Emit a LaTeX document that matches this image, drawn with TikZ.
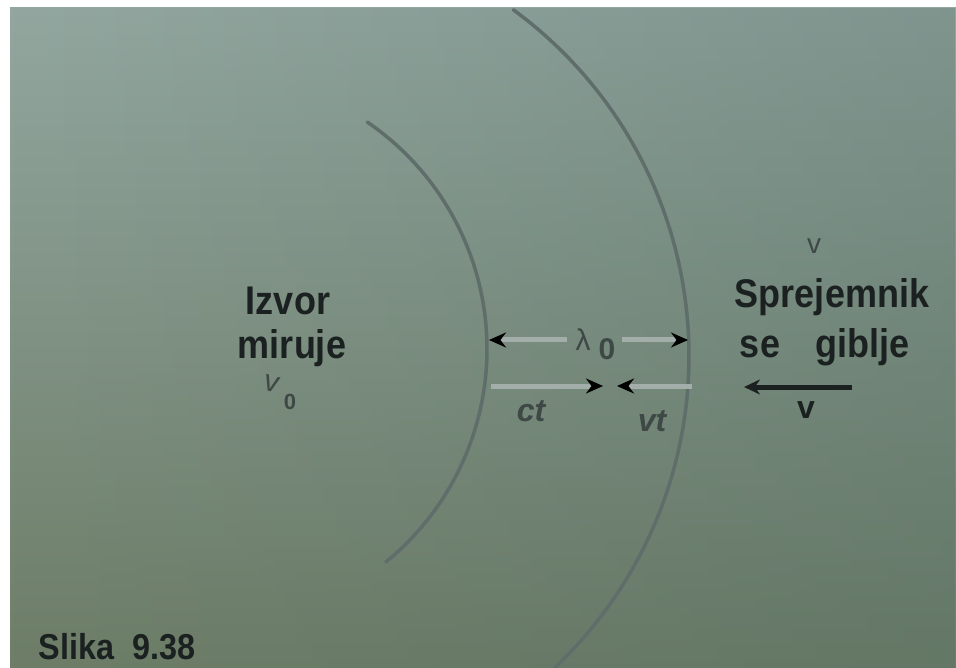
\documentclass[tikz,border=0pt]{standalone}
\usepackage{fontspec}
\setmainfont{Liberation Sans}
\usetikzlibrary{arrows.meta,fadings}
\definecolor{bgtop}{HTML}{93A7A0}
\definecolor{bgmid}{HTML}{869A91}
\definecolor{bgbot}{HTML}{6D7D67}
\definecolor{bgright}{HTML}{4F6A64}
\definecolor{ink}{HTML}{1B2120}
\definecolor{arcc}{HTML}{5F6E6A}
\definecolor{shaft}{HTML}{A3AEAA}
\definecolor{greytxt}{HTML}{3E4846}
\begin{document}
\begin{tikzpicture}[x=1pt,y=-1pt,
  bigtxt/.style={font=\fontsize{40}{44}\selectfont\bfseries, text=ink, xscale=0.9, inner sep=0, anchor=base},
  captxt/.style={font=\fontsize{36}{40}\selectfont\bfseries, text=ink, xscale=0.9, inner sep=0, anchor=base},
  symtxt/.style={font=\fontsize{32}{34}\selectfont\bfseries\itshape, text=greytxt, inner sep=0},
  lamtxt/.style={font=\fontsize{30}{32}\selectfont, text=greytxt, inner sep=0},
  wave/.style={draw=arcc, line width=3.5pt, line cap=round},
  dimline/.style={draw=shaft, line width=5pt, -{Stealth[length=17pt,width=15pt,black]}},
  motion/.style={draw=ink, line width=5pt, -{Stealth[length=16pt,width=15pt]}}
]
\useasboundingbox (0,0) rectangle (956,668);
% photo background
\fill[white] (0,0) rectangle (956,668);
\shade[top color=bgtop, middle color=bgmid, bottom color=bgbot] (10,8) rectangle (956,668);
\fill[bgright, path fading=west, fill opacity=0.3] (10,8) rectangle (956,668);

% wavefronts
\draw[wave] plot[domain=-55.6:50.8, samples=80, variable=\t] ({212+275*cos(\t)}, {349+275*sin(\t)});
\draw[wave] plot[domain=-53.8:46.6, samples=80, variable=\t] ({260+429*cos(\t)}, {356+429*sin(\t)});

% lambda_0 dimension
\node[lamtxt] (lam) at (583,340) {λ};
\node[lamtxt, font=\fontsize{30}{32}\selectfont\bfseries] (lamsub) at (607,349) {0};
\coordinate (lamLs) at (567,340);
\coordinate (lamRs) at (622,340);
\coordinate (lamL) at (489,340);
\coordinate (lamR) at (688,340);
\draw[dimline] (lamLs) -- (lamL);
\draw[dimline] (lamRs) -- (lamR);

% ct / vt
\coordinate (ctS) at (491,386);
\coordinate (ctE) at (603,386);
\coordinate (vtS) at (692,386);
\coordinate (vtE) at (617,386);
\draw[dimline] (ctS) -- (ctE);
\draw[dimline] (vtS) -- (vtE);
\node[symtxt] (ct) at (531,411) {ct};
\node[symtxt] (vt) at (652,421) {vt};

% source
\node[bigtxt] (izvor) at (288,315) {Izvor};
\node[bigtxt] (miruje) at (292,359) {miruje};
\node[font=\fontsize{30}{32}\selectfont, text=greytxt, inner sep=0, rotate=-15] (nu0) at (272,384) {v};
\node[font=\fontsize{22}{24}\selectfont\bfseries, text=greytxt, inner sep=0] (nu0s) at (290,402) {0};

% receiver
\node[font=\fontsize{28}{30}\selectfont, text=greytxt, inner sep=0] (nutop) at (814,246) {v};
\node[bigtxt] (sprej) at (832,308) {Sprejemnik};
\node[bigtxt] (se) at (760,358) {se};
\node[bigtxt] (giblje) at (862,358) {giblje};
\coordinate (mvS) at (852,387);
\coordinate (mvE) at (744,387);
\draw[motion] (mvS) -- (mvE);
\node[font=\fontsize{32}{34}\selectfont\bfseries, text=ink, inner sep=0] (vlab) at (806,410) {v};

% caption
\node[captxt] (cap) at (117,659) {Slika\ \ 9.38};
\end{tikzpicture}
\end{document}
